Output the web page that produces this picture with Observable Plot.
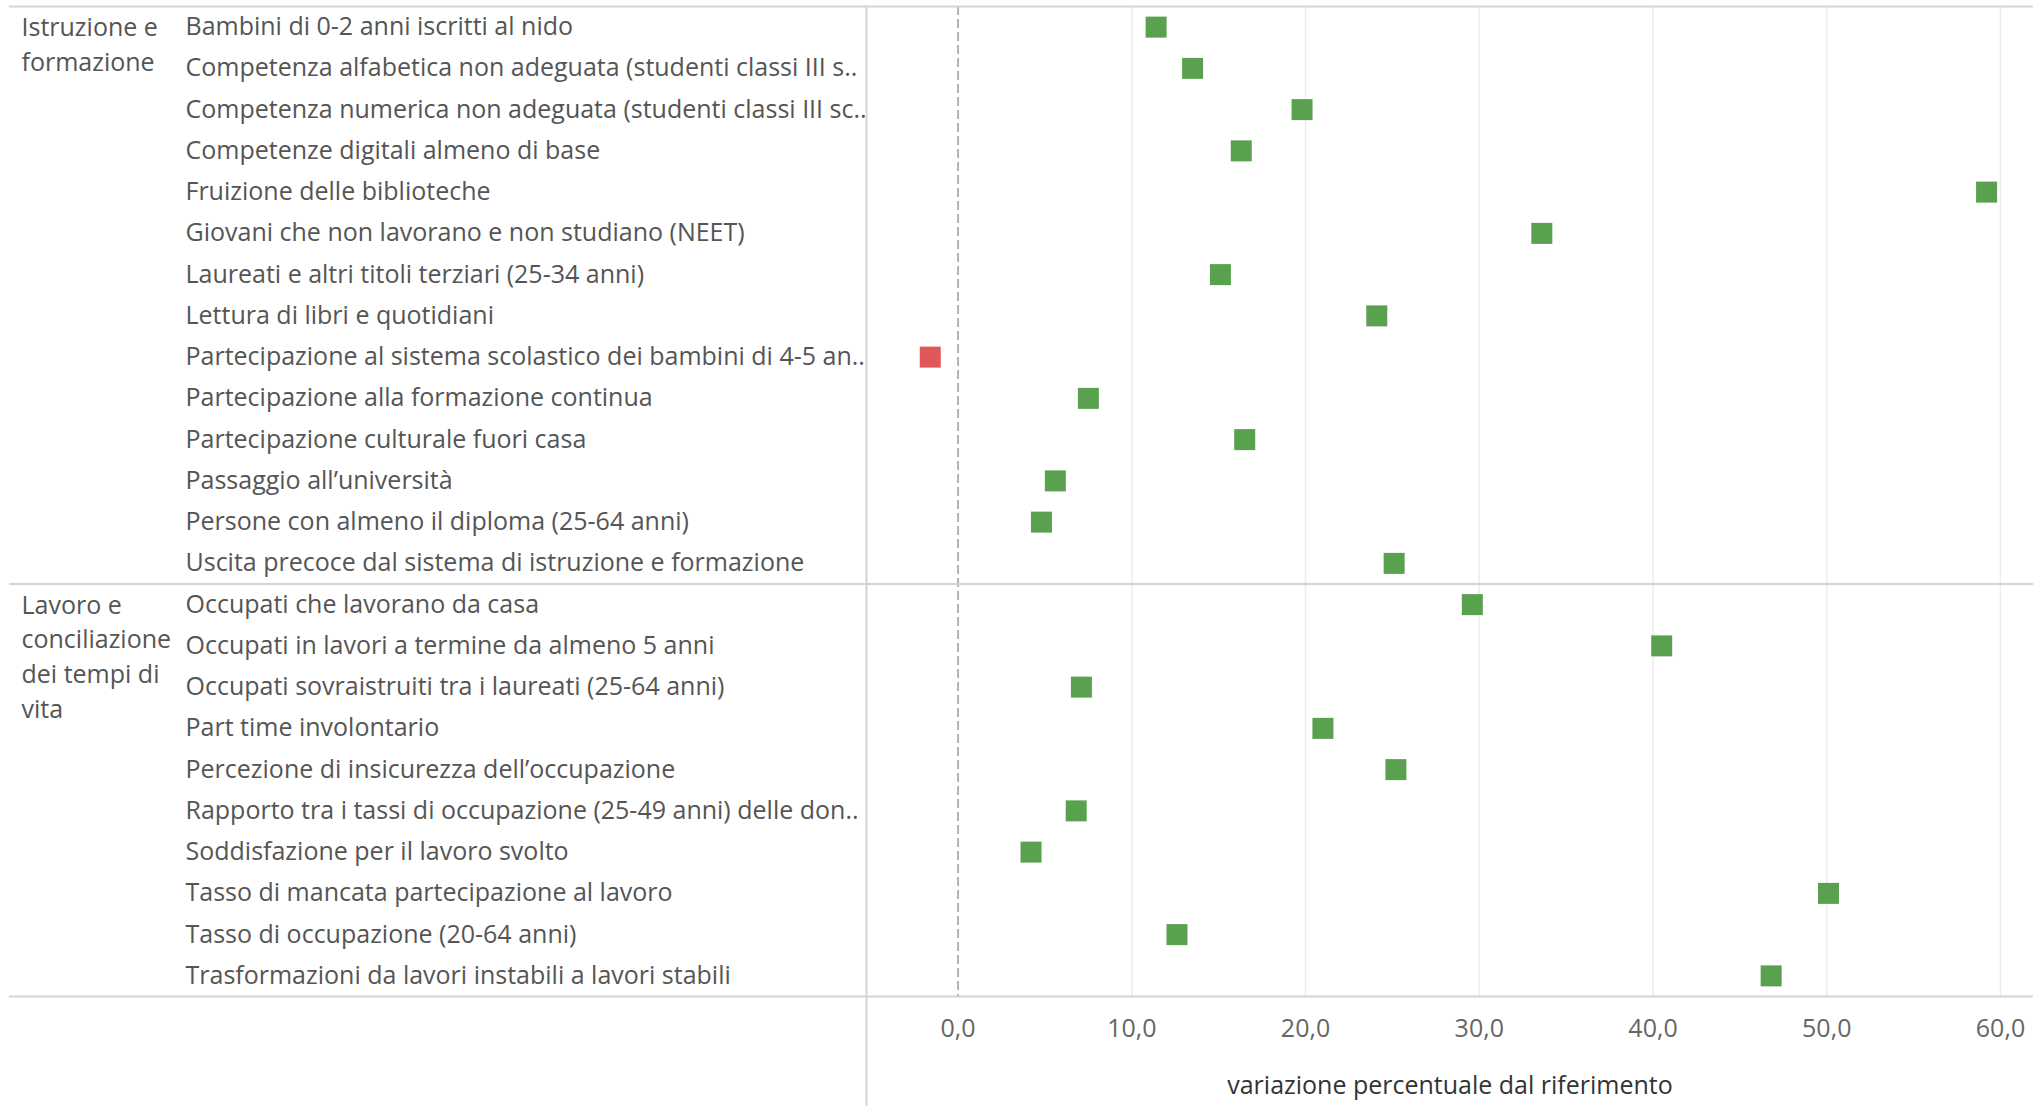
<!DOCTYPE html>
<html><head><meta charset="utf-8">
<script src="https://cdn.jsdelivr.net/npm/d3@7"></script>
<script src="https://cdn.jsdelivr.net/npm/@observablehq/plot@0.6"></script>
<style>
html,body{margin:0;padding:0;background:#fff;}
#chart svg{display:block;}
</style>
</head><body><div id="chart"></div>
<script>
const groups = ["Istruzione e\nformazione", "Lavoro e\nconciliazione\ndei tempi di\nvita"];
const groupSizes = [14, 10];
const indicators = [
  "Bambini di 0-2 anni iscritti al nido",
  "Competenza alfabetica non adeguata (studenti classi III s..",
  "Competenza numerica non adeguata (studenti classi III sc..",
  "Competenze digitali almeno di base",
  "Fruizione delle biblioteche",
  "Giovani che non lavorano e non studiano (NEET)",
  "Laureati e altri titoli terziari (25-34 anni)",
  "Lettura di libri e quotidiani",
  "Partecipazione al sistema scolastico dei bambini di 4-5 an..",
  "Partecipazione alla formazione continua",
  "Partecipazione culturale fuori casa",
  "Passaggio all’università",
  "Persone con almeno il diploma (25-64 anni)",
  "Uscita precoce dal sistema di istruzione e formazione",
  "Occupati che lavorano da casa",
  "Occupati in lavori a termine da almeno 5 anni",
  "Occupati sovraistruiti tra i laureati (25-64 anni)",
  "Part time involontario",
  "Percezione di insicurezza dell’occupazione",
  "Rapporto tra i tassi di occupazione (25-49 anni) delle don..",
  "Soddisfazione per il lavoro svolto",
  "Tasso di mancata partecipazione al lavoro",
  "Tasso di occupazione (20-64 anni)",
  "Trasformazioni da lavori instabili a lavori stabili"
];
const values = [11.4, 13.5, 19.8, 16.3, 59.2, 33.6, 15.1, 24.1, -1.6, 7.5, 16.5, 5.6, 4.8, 25.1,
                29.6, 40.5, 7.1, 21.0, 25.2, 6.8, 4.2, 50.1, 12.6, 46.8];
const xTicks = [0, 10, 20, 30, 40, 50, 60];
const axisTitle = "variazione percentuale dal riferimento";

const rows = indicators.map((name, i) => ({i, name, value: values[i]}));
const groupStarts = [];
const bounds = [-0.5];
let acc = 0;
for (const n of groupSizes) { groupStarts.push(acc); acc += n; bounds.push(acc - 0.5); }
const groupLabels = groupStarts.map((s, k) => ({y: s, label: groups[k]}));

const FONT = "'Open Sans'";
const FS = 25;
const chart = Plot.plot({
  width: 2033, height: 1106,
  marginLeft: 866, marginRight: 0, marginTop: 6, marginBottom: 110,
  style: {fontFamily: FONT, fontSize: FS + "px", color: "#555", background: "#fff"},
  x: {domain: [-5.27, 61.9], axis: null},
  y: {domain: [-0.5, indicators.length - 0.5], reverse: true, axis: null},
  marks: [
    Plot.gridX(xTicks.filter(d => d !== 0), {stroke: "#ececec", strokeOpacity: 1, strokeWidth: 1.5}),
    Plot.ruleX([0], {stroke: "#b3b3b3", strokeWidth: 2, strokeDasharray: "9,4"}),
    Plot.ruleY(bounds, {stroke: "#d4d4d4", strokeWidth: 2, insetLeft: -857}),
    Plot.frame({anchor: "left", stroke: "#d4d4d4", strokeWidth: 2, insetBottom: -110}),
    Plot.axisX(xTicks, {tickSize: 0, tickPadding: 23, label: null, fill: "#666", fontSize: FS,
      tickFormat: d => d.toFixed(1).replace(".", ",")}),
    Plot.text([axisTitle], {frameAnchor: "bottom", dy: 97, fill: "#333", fontSize: FS}),
    Plot.axisY(d3.range(indicators.length), {tickSize: 0, tickPadding: 0, label: null, dx: -681,
      textAnchor: "start", fill: "#555", fontSize: FS, tickFormat: i => indicators[i]}),
    Plot.text(groupLabels, {y: "y", text: "label", frameAnchor: "left", dx: -845, textAnchor: "start",
      lineAnchor: "top", dy: -15.5, lineHeight: 1.385, fill: "#555", fontSize: FS}),
    Plot.dot(rows, {x: "value", y: "i", symbol: "square", r: 11.85,
      fill: d => d.value < 0 ? "#e15759" : "#59a14f", stroke: null})
  ]
});
document.getElementById("chart").appendChild(chart);
</script>
</body></html>
